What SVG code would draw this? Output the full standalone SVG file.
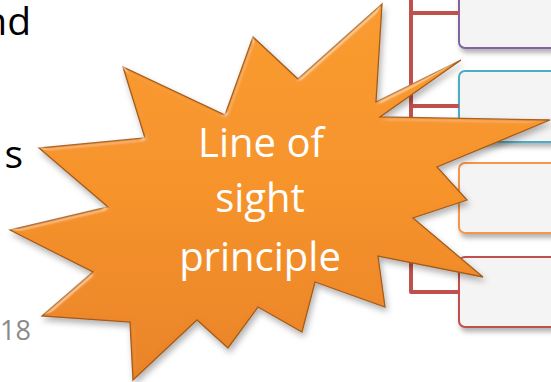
<svg xmlns="http://www.w3.org/2000/svg" width="551" height="382" viewBox="0 0 551 382">
  <style>
    .box { fill: #F4F4F4; stroke-width: 2; filter: url(#boxShadow); }
    .conn { fill: none; stroke: #C0504D; stroke-width: 4; stroke-linejoin: round; }
    .side { font-family: "Open Sans", "Liberation Sans", sans-serif; font-size: 39px; fill: #000; }
    .star-text { font-family: "Open Sans", "Liberation Sans", sans-serif; font-size: 40px; fill: #FFFFFF; text-anchor: middle; }
    .pagenum { font-family: "Open Sans", "Liberation Sans", sans-serif; font-size: 27px; fill: #8A8A8A; }
  </style>
  <defs>
    <linearGradient id="starGrad" x1="0" y1="0" x2="0" y2="1">
      <stop offset="0" stop-color="#F99B30"/>
      <stop offset="0.5" stop-color="#F6922C"/>
      <stop offset="1" stop-color="#EA8228"/>
    </linearGradient>
    <filter id="boxShadow" x="-10%" y="-10%" width="130%" height="140%">
      <feGaussianBlur in="SourceAlpha" stdDeviation="2.5"/>
      <feOffset dx="2" dy="4" result="ob"/>
      <feFlood flood-color="#000" flood-opacity="0.3"/>
      <feComposite in2="ob" operator="in"/>
      <feMerge>
        <feMergeNode/>
        <feMergeNode in="SourceGraphic"/>
      </feMerge>
    </filter>
    <filter id="starFx" x="-10%" y="-10%" width="125%" height="125%">
      <feGaussianBlur in="SourceAlpha" stdDeviation="3" result="b"/>
      <feOffset in="b" dx="2" dy="4" result="ob"/>
      <feFlood flood-color="#000" flood-opacity="0.3"/>
      <feComposite in2="ob" operator="in" result="shadow"/>
      <feGaussianBlur in="SourceAlpha" stdDeviation="2" result="b2"/>
      <feSpecularLighting in="b2" surfaceScale="4" specularConstant="0.6" specularExponent="20" lighting-color="#FFE2A8" result="spec">
        <feDistantLight azimuth="235" elevation="22"/>
      </feSpecularLighting>
      <feComposite in="spec" in2="SourceAlpha" operator="in" result="specIn"/>
      <feMerge>
        <feMergeNode in="shadow"/>
        <feMergeNode in="SourceGraphic"/>
        <feMergeNode in="specIn"/>
      </feMerge>
    </filter>
  </defs>

  <g id="side-text">
    <text class="side" x="31" y="35" text-anchor="end">nd</text>
    <text class="side" x="23" y="168" text-anchor="end">s</text>
    <text class="pagenum" x="0" y="340">18</text>
  </g>

  <g id="box1"><rect class="box" x="459" y="-22" width="110" height="70" rx="6" stroke="#8064A2"/></g>
  <g id="box2"><rect class="box" x="459" y="71" width="110" height="71" rx="6" stroke="#4BACC6"/></g>
  <g id="box3"><rect class="box" x="459" y="163" width="110" height="70" rx="6" stroke="#F79646"/></g>
  <g id="box4"><rect class="box" x="459" y="257" width="110" height="70" rx="6" stroke="#C0504D"/></g>

  <g id="connectors">
    <path class="conn" d="M411,-5 L411,292 L459,292"/>
    <path class="conn" d="M411,13 L459,13"/>
    <path class="conn" d="M411,106 L459,106"/>
    <path class="conn" d="M411,198 L459,198"/>
  </g>

  <g id="star">
    <path d="M133,380 L130,322 L42,316 L93,272 L10,230 L108,207 L39,148 L145,138 L123,67 L225,115 L253,37 L298,79 L382,4 L376,102 L461,60 L380,117 L550,120 L437,167 L467,200 L413,218 L483,277 L378,256 L385,307 L315,282 L302,332 L258,307 L228,348 L197,320 Z" fill="url(#starGrad)" stroke="#A35C1D" stroke-width="1.3" stroke-linejoin="miter" filter="url(#starFx)"/>
    <text class="star-text" x="261" y="157">Line of</text>
    <text class="star-text" x="260" y="212">sight</text>
    <text class="star-text" x="260" y="271">principle</text>
  </g>
</svg>
